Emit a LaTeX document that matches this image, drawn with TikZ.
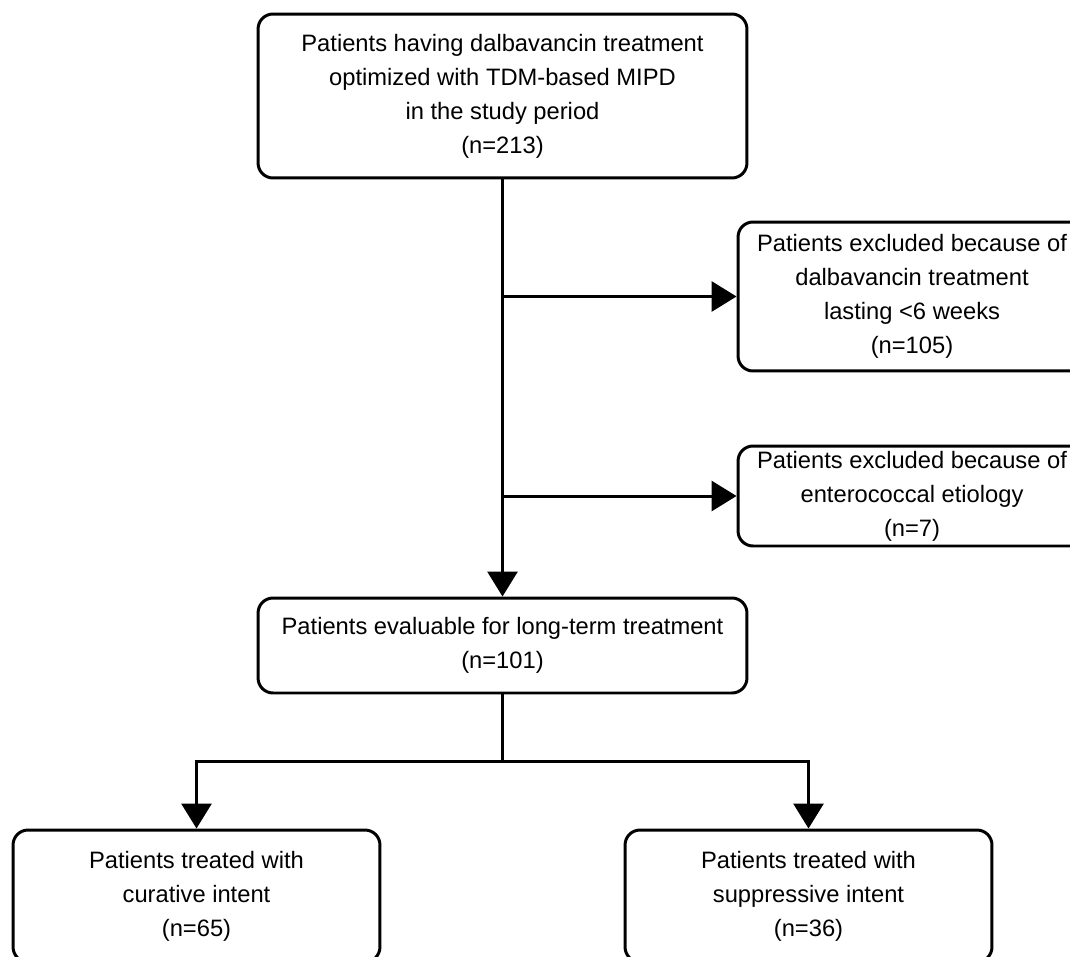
\documentclass[tikz,border=0pt]{standalone}
\usepackage{fontspec}
\setmainfont{Liberation Sans}
\usepackage{tikz}
\usetikzlibrary{positioning,arrows.meta,calc}

\begin{document}
\begin{tikzpicture}[x=0.02cm,y=-0.02cm,
    box/.style={draw,line width=1.7pt,rounded corners=0.3cm,align=center,
      font=\fontsize{13.5}{19.4}\selectfont,inner sep=0pt},
    link/.style={line width=1.7pt},
    arr/.style={link,-{Triangle[length=0.5cm,width=0.6cm]}}]
    \clip (0,0) rectangle (1070,956);

    \node [box,minimum width=9.78cm,minimum height=3.28cm] (start) at (502.5,96)
      {Patients having dalbavancin treatment\\optimized with TDM-based MIPD\\in the study period\\(n=213)};
    \node [box,minimum width=6.96cm,minimum height=2.98cm] (short) at (912,296.5)
      {Patients excluded because of\\dalbavancin treatment\\lasting <6 weeks\\(n=105)};
    \node [box,minimum width=6.96cm,minimum height=2cm] (entero) at (912,496)
      {Patients excluded because of\\enterococcal etiology\\(n=7)};
    \node [box,minimum width=9.78cm,minimum height=1.9cm] (eval) at (502.5,645.5)
      {Patients evaluable for long-term treatment\\(n=101)};
    \node [box,minimum width=7.34cm,minimum height=2.64cm] (cure) at (196.5,896)
      {Patients treated with\\curative intent\\(n=65)};
    \node [box,minimum width=7.34cm,minimum height=2.64cm] (supp) at (808.5,896)
      {Patients treated with\\suppressive intent\\(n=36)};

    % main line and exclusions
    \draw [arr] (start.south) -- (eval.north);
    \draw [arr] (start.south |- short.west) -- (short.west);
    \draw [arr] (start.south |- entero.west) -- (entero.west);

    % split into the two groups
    \coordinate (split) at ($(eval.south)+(0,67)$);
    \draw [link] (eval.south) -- (split);
    \draw [arr] (split) -| (cure.north);
    \draw [arr] (split) -| (supp.north);
\end{tikzpicture}
\end{document}
